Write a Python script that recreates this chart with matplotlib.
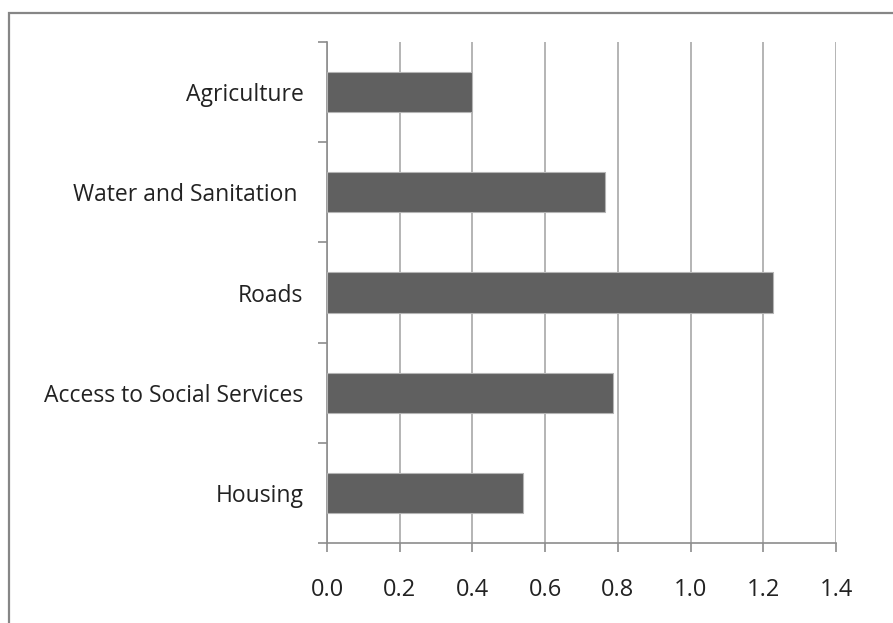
import matplotlib
matplotlib.use("Agg")
import matplotlib.pyplot as plt
from matplotlib.patches import Rectangle
import numpy as np

categories = ["Housing", "Access to Social Services", "Roads", "Water and Sanitation ", "Agriculture"]
values = [0.538, 0.788, 1.226, 0.764, 0.40]
xticks = [0.0, 0.2, 0.4, 0.6, 0.8, 1.0, 1.2, 1.4]

plt.rcParams['font.family'] = ['Open Sans', 'DejaVu Sans']

W, H = 893, 623
fig = plt.figure(figsize=(W / 100, H / 100), dpi=100)
fig.patch.set_facecolor("white")

# outer chart border (left and top visible)
fig.add_artist(Rectangle((9 / W, -0.1), 1.2, (H - 13) / H + 0.1, transform=fig.transFigure,
                         fill=False, edgecolor="#868686", linewidth=1.6))

left, right, top, bottom = 327, 836, 42, 543
ax = fig.add_axes([left / W, 1 - bottom / H, (right - left) / W, (bottom - top) / H])

y = np.arange(len(categories))
ax.barh(y, values, height=0.4, color="#606060", edgecolor="#b4b4b4", linewidth=0.8, zorder=3)

ax.set_xlim(0, 1.4)
ax.set_ylim(-0.5, len(categories) - 0.5)
ax.set_xticks(xticks)
ax.set_xticklabels([f"{v:.1f}" for v in xticks])
ax.set_yticks(y)
ax.set_yticklabels(categories)
ax.set_yticks(np.arange(-0.5, len(categories), 1.0), minor=True)

ax.grid(axis="x", color="#a8a8a8", linewidth=1.2, zorder=0)
ax.set_axisbelow(True)

for s in ["top", "right"]:
    ax.spines[s].set_visible(False)
for s in ["left", "bottom"]:
    ax.spines[s].set_color("#8c8c8c")
    ax.spines[s].set_linewidth(1.2)

ax.tick_params(axis="y", which="major", length=0, pad=17, labelsize=16.5, labelcolor="#222222")
ax.tick_params(axis="y", which="minor", length=6.5, width=1.2, color="#8c8c8c", direction="out")
ax.tick_params(axis="x", which="major", length=6.5, width=1.2, color="#8c8c8c", direction="out",
               pad=18.5, labelsize=17, labelcolor="#222222")

fig.savefig("out.png", dpi=100, facecolor="white")
